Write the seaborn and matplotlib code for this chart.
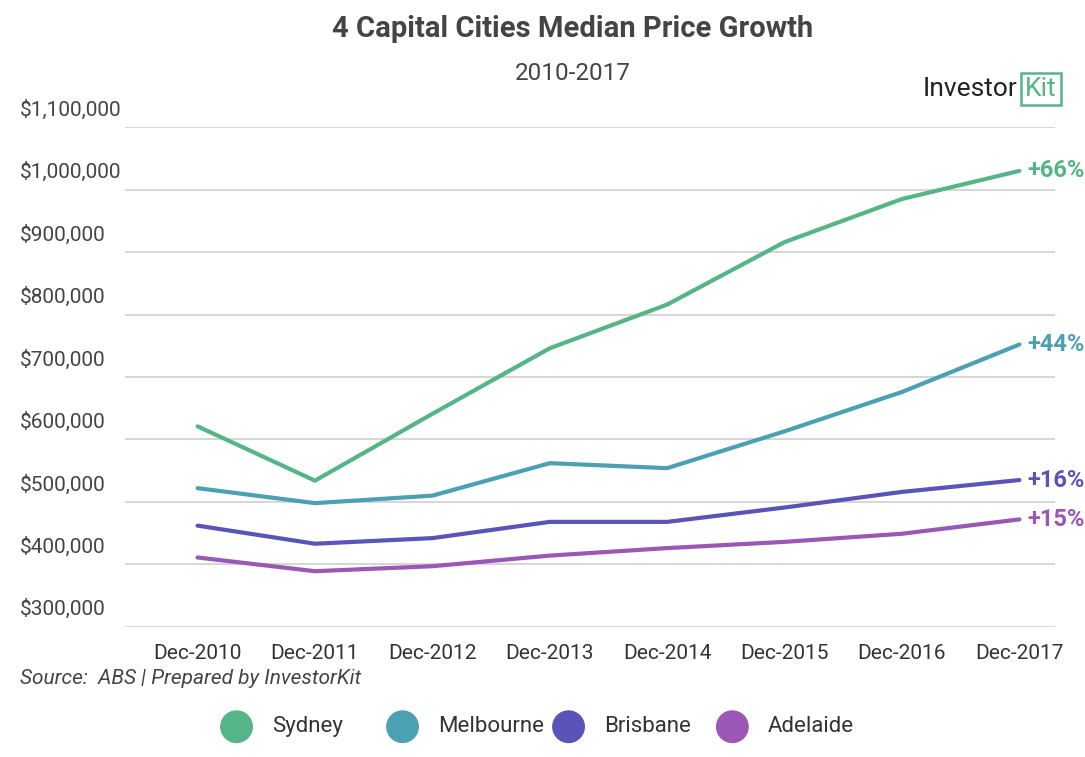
import matplotlib
matplotlib.use("Agg")
import matplotlib.pyplot as plt
import matplotlib.transforms as mtransforms
import seaborn as sns
import pandas as pd

years = ["Dec-2010", "Dec-2011", "Dec-2012", "Dec-2013", "Dec-2014", "Dec-2015", "Dec-2016", "Dec-2017"]
sydney = [621000, 534000, 641000, 746000, 816000, 916000, 985000, 1030000]
melbourne = [522000, 498000, 510000, 562000, 554000, 613000, 676000, 752000]
brisbane = [462000, 433000, 442000, 468000, 468000, 491000, 516000, 535000]
adelaide = [411000, 389000, 397000, 414000, 426000, 436000, 449000, 472000]
cities = ["Sydney", "Melbourne", "Brisbane", "Adelaide"]
growth = ["+66%", "+44%", "+16%", "+15%"]
colors = ["#55b586", "#4ba0b4", "#5a54b8", "#9a57b6"]
yticks = [300000, 400000, 500000, 600000, 700000, 800000, 900000, 1000000, 1100000]

df = pd.DataFrame({"Year": years * 4,
                   "Price": sydney + melbourne + brisbane + adelaide,
                   "City": [c for c in cities for _ in years]})

sns.set_style("white")
plt.rcParams["font.family"] = ["Roboto", "DejaVu Sans"]
fig = plt.figure(figsize=(10.85, 7.57), dpi=100)
ax = fig.add_axes([0.115, 0.172, 0.857, 0.66])

sns.lineplot(data=df, x="Year", y="Price", hue="City", palette=colors, linewidth=3, ax=ax, legend=False, sort=False)

ax.set_ylim(300000, 1100000)
ax.set_xlim(-0.62, 7.3)
ax.set_yticks(yticks)
ax.grid(axis="y", color="#d0d0d0", linewidth=1.2)
ax.tick_params(axis="y", left=False, labelleft=False)
ax.tick_params(axis="x", bottom=False, labelsize=15, labelcolor="#333333", pad=9)
for s in ax.spines.values():
    s.set_visible(False)
ax.set_xlabel("")
ax.set_ylabel("")

trans = mtransforms.blended_transform_factory(fig.transFigure, ax.transData)
for v in yticks:
    ax.text(0.018, v + 12000, f"${v:,.0f}", transform=trans, fontsize=15, color="#444444", va="bottom", ha="left")

for vals, g, c in zip([sydney, melbourne, brisbane, adelaide], growth, colors):
    ax.text(7.07, vals[-1], g, color=c, fontsize=17, fontweight="bold", va="center", ha="left")

fig.text(0.528, 0.962, "4 Capital Cities Median Price Growth", ha="center", va="center",
         fontsize=21, fontweight="bold", color="#444444")
fig.text(0.528, 0.903, "2010-2017", ha="center", va="center", fontsize=17.5, color="#444444")
fig.text(0.018, 0.104, "Source:  ABS | Prepared by InvestorKit", fontsize=15, style="italic", color="#444444", va="center")

fig.text(0.938, 0.883, "Investor", ha="right", va="center", fontsize=19, color="#222222")
fig.text(0.945, 0.883, "Kit", ha="left", va="center", fontsize=19, color="#55b586",
         bbox=dict(boxstyle="square,pad=0.15", fc="white", ec="#55b586", lw=1.8))

# legend
lx = [0.218, 0.371, 0.524, 0.675]
for x, c, name in zip(lx, colors, cities):
    fig.patches.append(matplotlib.patches.Ellipse((x, 0.04), 0.029, 0.029 * 1085 / 757,
                                                  transform=fig.transFigure, color=c))
    fig.text(x + 0.033, 0.04, name, fontsize=16, color="#333333", va="center")

fig.savefig("out.png", dpi=100)
